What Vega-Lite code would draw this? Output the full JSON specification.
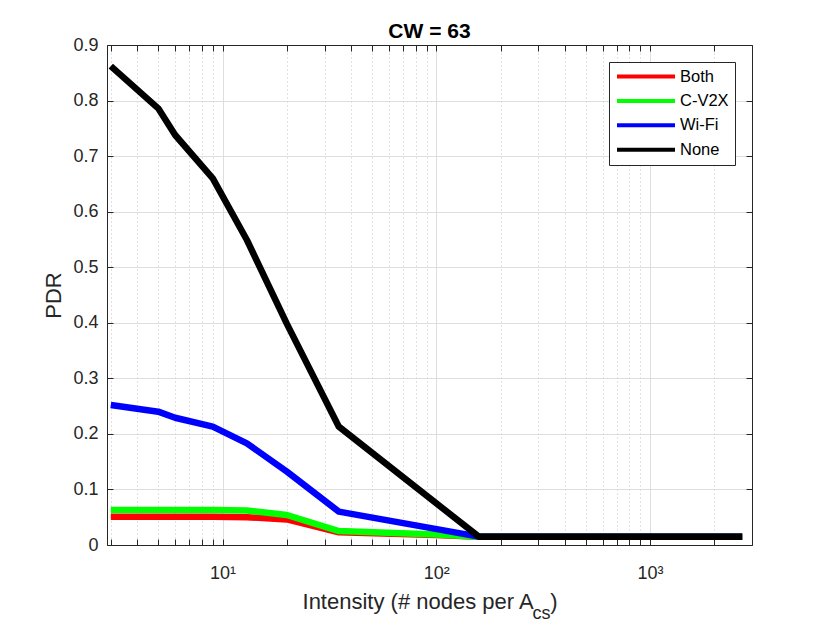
{
  "$schema": "https://vega.github.io/schema/vega-lite/v6.json",
  "width": 645,
  "height": 500,
  "autosize": {"type": "none"},
  "padding": {"left": 107, "top": 45, "right": 78, "bottom": 78},
  "background": "white",
  "config": {"view": {"stroke": null}, "font": "Liberation Sans"},
  "title": {"text": "CW = 63", "fontSize": 21, "fontWeight": "bold", "font": "Liberation Sans", "color": "#000000", "offset": 8, "dy": 31, "baseline": "alphabetic", "anchor": "middle"},
  "data": {"values": [
    {"x": 3, "pdr": 0.051, "scheme": "Both"},
    {"x": 5, "pdr": 0.051, "scheme": "Both"},
    {"x": 6, "pdr": 0.051, "scheme": "Both"},
    {"x": 9, "pdr": 0.051, "scheme": "Both"},
    {"x": 13, "pdr": 0.050, "scheme": "Both"},
    {"x": 20, "pdr": 0.046, "scheme": "Both"},
    {"x": 35, "pdr": 0.023, "scheme": "Both"},
    {"x": 100, "pdr": 0.018, "scheme": "Both"},
    {"x": 158, "pdr": 0.015, "scheme": "Both"},
    {"x": 2700, "pdr": 0.015, "scheme": "Both"},
    {"x": 3, "pdr": 0.063, "scheme": "C-V2X"},
    {"x": 5, "pdr": 0.063, "scheme": "C-V2X"},
    {"x": 6, "pdr": 0.063, "scheme": "C-V2X"},
    {"x": 9, "pdr": 0.063, "scheme": "C-V2X"},
    {"x": 13, "pdr": 0.062, "scheme": "C-V2X"},
    {"x": 20, "pdr": 0.054, "scheme": "C-V2X"},
    {"x": 35, "pdr": 0.025, "scheme": "C-V2X"},
    {"x": 100, "pdr": 0.019, "scheme": "C-V2X"},
    {"x": 158, "pdr": 0.015, "scheme": "C-V2X"},
    {"x": 2700, "pdr": 0.015, "scheme": "C-V2X"},
    {"x": 3, "pdr": 0.252, "scheme": "Wi-Fi"},
    {"x": 5, "pdr": 0.240, "scheme": "Wi-Fi"},
    {"x": 6, "pdr": 0.229, "scheme": "Wi-Fi"},
    {"x": 9, "pdr": 0.213, "scheme": "Wi-Fi"},
    {"x": 13, "pdr": 0.183, "scheme": "Wi-Fi"},
    {"x": 20, "pdr": 0.132, "scheme": "Wi-Fi"},
    {"x": 35, "pdr": 0.060, "scheme": "Wi-Fi"},
    {"x": 158, "pdr": 0.015, "scheme": "Wi-Fi"},
    {"x": 2700, "pdr": 0.015, "scheme": "Wi-Fi"},
    {"x": 3, "pdr": 0.862, "scheme": "None"},
    {"x": 5, "pdr": 0.786, "scheme": "None"},
    {"x": 6, "pdr": 0.738, "scheme": "None"},
    {"x": 9, "pdr": 0.660, "scheme": "None"},
    {"x": 13, "pdr": 0.549, "scheme": "None"},
    {"x": 20, "pdr": 0.398, "scheme": "None"},
    {"x": 35, "pdr": 0.213, "scheme": "None"},
    {"x": 158, "pdr": 0.015, "scheme": "None"},
    {"x": 2700, "pdr": 0.015, "scheme": "None"}
  ]},
  "layer": [
    {
      "mark": {"type": "line", "strokeWidth": 6.5, "strokeCap": "butt", "strokeJoin": "round"},
      "encoding": {
        "x": {
          "field": "x", "type": "quantitative",
          "scale": {"type": "log", "domain": [2.88, 3000], "nice": false, "zero": false},
          "axis": {
            "orient": "bottom",
            "values": [3,4,5,6,7,8,9,10,20,30,40,50,60,70,80,90,100,200,300,400,500,600,700,800,900,1000,2000],
            "labelExpr": "datum.value == 10 ? '10¹' : datum.value == 100 ? '10²' : datum.value == 1000 ? '10³' : ''",
            "labelOverlap": false, "labelFlush": false, "labelBound": false,
            "labelFontSize": 18, "labelColor": "#262626", "labelPadding": 25,
            "tickSize": -6, "tickColor": "#262626", "domainColor": "#262626",
            "grid": true,
            "gridDash": {"condition": {"test": "datum.value == 10 || datum.value == 100 || datum.value == 1000", "value": []}, "value": [1, 3]},
            "gridColor": {"condition": {"test": "datum.value == 10 || datum.value == 100 || datum.value == 1000", "value": "#dedede"}, "value": "#c4c4c4"},
            "title": "Intensity (# nodes per A\u2002\u2005)",
            "titleFontSize": 22, "titleFontWeight": "normal", "titleColor": "#262626", "titlePadding": 9
          }
        },
        "y": {
          "field": "pdr", "type": "quantitative",
          "scale": {"domain": [0, 0.9], "nice": false},
          "axis": {
            "orient": "left",
            "values": [0, 0.1, 0.2, 0.3, 0.4, 0.5, 0.6, 0.7, 0.8, 0.9],
            "format": ".1~f",
            "labelFontSize": 18, "labelColor": "#262626", "labelPadding": 15,
            "tickSize": -6, "tickColor": "#262626", "domainColor": "#262626",
            "grid": true, "gridColor": "#dedede",
            "title": "PDR", "titleFontSize": 22, "titleFontWeight": "normal", "titleColor": "#262626", "titlePadding": 7
          }
        },
        "color": {
          "field": "scheme", "type": "nominal",
          "scale": {"domain": ["Both", "C-V2X", "Wi-Fi", "None"], "range": ["#ff0000", "#00ff00", "#0000ff", "#000000"]},
          "legend": {
            "orient": "top-right", "offset": 17, "title": null,
            "symbolType": "stroke", "symbolSize": 3364, "symbolStrokeWidth": 4,
            "clipHeight": 17, "rowPadding": 7.4,
            "labelFontSize": 16.5, "labelColor": "#000000", "labelOffset": 3,
            "padding": 6, "strokeColor": "#262626", "fillColor": "white", "symbolOffset": 0
          }
        }
      }
    },
    {
      "mark": {"type": "line", "strokeOpacity": 0},
      "encoding": {
        "x": {
          "field": "x", "type": "quantitative",
          "axis": {
            "orient": "top",
            "values": [3,4,5,6,7,8,9,10,20,30,40,50,60,70,80,90,100,200,300,400,500,600,700,800,900,1000,2000],
            "labels": false, "grid": false,
            "tickSize": -6, "tickColor": "#262626", "domainColor": "#262626",
            "title": "cs", "titleFontSize": 18, "titleFontWeight": "normal", "titleColor": "#262626",
            "titleX": 425, "titleY": 573, "titleAlign": "left", "titleBaseline": "alphabetic", "titleAnchor": "start"
          }
        },
        "y": {
          "field": "pdr", "type": "quantitative",
          "axis": {
            "orient": "right",
            "values": [0, 0.1, 0.2, 0.3, 0.4, 0.5, 0.6, 0.7, 0.8, 0.9],
            "labels": false, "grid": false,
            "tickSize": -6, "tickColor": "#262626", "domainColor": "#262626",
            "title": null
          }
        },
        "detail": {"field": "scheme"}
      }
    }
  ],
  "resolve": {"axis": {"x": "independent", "y": "independent"}}
}
